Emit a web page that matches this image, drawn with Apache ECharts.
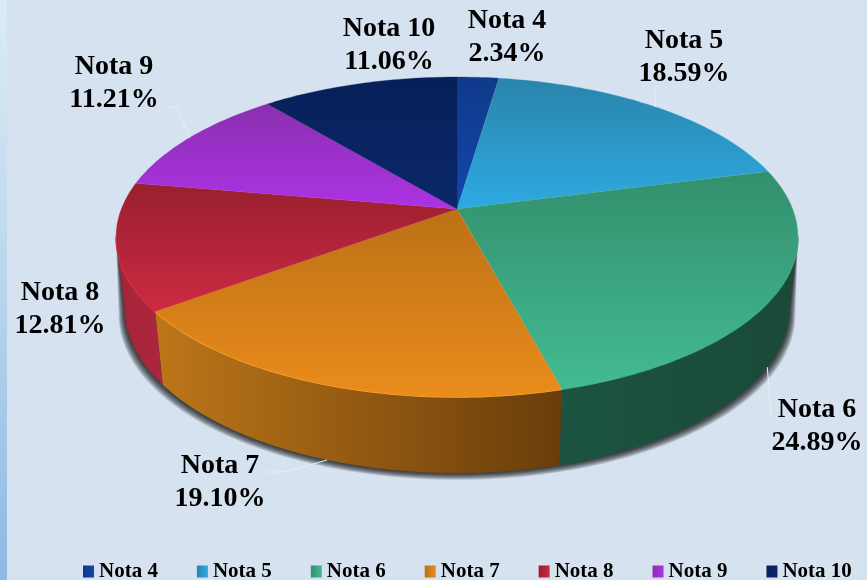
<!DOCTYPE html>
<html>
<head>
<meta charset="utf-8">
<script src="https://cdn.jsdelivr.net/npm/echarts@6/dist/echarts.min.js"></script>
<style>
html, body { margin: 0; padding: 0; background: #d6e2ef; }
#main { width: 867px; height: 580px; }
</style>
</head>
<body>
<div id="main"></div>
<script>
var categories = ['Nota 4', 'Nota 5', 'Nota 6', 'Nota 7', 'Nota 8', 'Nota 9', 'Nota 10'];
var percents = [2.34, 18.59, 24.89, 19.10, 12.81, 11.21, 11.06];

// top face: dark (far) -> bright (near)
var topColors = [
    ['#0f398a', '#1446ab'], ['#2a84aa', '#2eaae2'], ['#338f6d', '#43bb91'], ['#bb7116', '#ea8c1c'],
    ['#98202e', '#cc2a42'], ['#8a2fae', '#ac33e4'], ['#07205a', '#0a2767']
];
// side wall: left -> right
var wallColors = [
    ['#0c2c6b', '#0c2c6b'], ['#1f6d90', '#1f6d90'], ['#1c5441', '#1a4a38'], ['#bd7619', '#693d0b'],
    ['#a62438', '#ac263c'], ['#6d258c', '#6d258c'], ['#061a48', '#061a48']
];
var rimColors = ['#1446ab', '#2eaae2', '#3a9a78', '#ffab2e', '#ea3350', '#ac33e4', '#0a2767'];

// perspective of the disc
var CX = 457, CY = 209, RX = 335.7, RY = 155.1, PERSP = 0.175;
var DEPTH = 70, BOTTOM_SX = 0.975, BOTTOM_SY = 1.032;
// part of the rim that faces the viewer
var WALL_FROM = 100, WALL_TO = 260;

var angles = [0];
percents.forEach(function (p, i) {
    angles.push(angles[i] + p / 100 * 360);
});

function topPoint(deg) {
    var a = deg * Math.PI / 180;
    var u = Math.sin(a), v = -Math.cos(a), w = 1 - PERSP * v;
    return [CX + RX * u / w, CY + RY * v / w];
}
function bottomPoint(deg) {
    var a = deg * Math.PI / 180;
    var u = Math.sin(a), v = -Math.cos(a), w = 1 - PERSP * v;
    return [CX + BOTTOM_SX * RX * u / w, CY + DEPTH + BOTTOM_SY * RY * v / w];
}
function arc(from, to, fn) {
    var pts = [];
    for (var d = from; d < to; d += 1) {
        pts.push(fn(d));
    }
    pts.push(fn(to));
    return pts;
}
function grad(c, horizontal) {
    return {
        type: 'linear', x: 0, y: 0, x2: horizontal ? 1 : 0, y2: horizontal ? 0 : 1,
        colorStops: [{ offset: 0, color: c[0] }, { offset: 1, color: c[1] }]
    };
}

// label centre and leader line of each slice
var labelLayout = [
    { x: 507, y: 37 },
    { x: 684, y: 57, line: [[655, 86]], rim: 'top' },
    { x: 817, y: 426, line: [[771, 416]], rim: 'bottom' },
    { x: 220, y: 482, line: [[285, 472], [265, 472]], rim: 'bottom' },
    { x: 60, y: 309 },
    { x: 114, y: 83, line: [[177, 107], [165, 107]], rim: 'top' },
    { x: 389, y: 45 }
];

function renderTop(params, api) {
    var i = api.value(0);
    var from = angles[i], to = angles[i + 1];
    var pts = [[CX, CY]].concat(arc(from, to, topPoint));
    var children = [{
        type: 'polygon',
        shape: { points: pts },
        style: { fill: grad(topColors[i]), stroke: topColors[i][1], lineWidth: 0.3 }
    }];
    var lay = labelLayout[i];
    if (lay.line) {
        var mid = (from + to) / 2;
        var anchor = lay.rim === 'top' ? topPoint(mid) : bottomPoint(mid);
        children.push({
            type: 'polyline',
            shape: { points: [anchor].concat(lay.line) },
            style: { stroke: '#e8eef5', lineWidth: 1, fill: null }
        });
    }
    children.push({
        type: 'text',
        x: lay.x,
        y: lay.y,
        style: {
            text: categories[i] + '\n' + percents[i].toFixed(2) + '%',
            font: 'bold 28px "Liberation Serif"',
            lineHeight: 33,
            fill: '#000',
            align: 'center',
            verticalAlign: 'middle'
        }
    });
    return { type: 'group', children: children };
}

function renderWall(params, api) {
    var i = api.value(0);
    var from = Math.max(angles[i], WALL_FROM), to = Math.min(angles[i + 1], WALL_TO);
    if (from >= to) {
        return null;
    }
    var rim = arc(from, to, topPoint);
    var low = arc(from, to, bottomPoint).reverse();
    return {
        type: 'group',
        children: [{
            type: 'polygon',
            shape: { points: rim.concat(low) },
            style: { fill: grad(wallColors[i], true) }
        }, {
            type: 'polyline',
            shape: { points: rim },
            style: { stroke: rimColors[i], lineWidth: 1.5, fill: null }
        }]
    };
}

// soft shadow under the disc, stacked translucent outlines
function renderShadow() {
    var rim = arc(WALL_FROM, WALL_TO, topPoint);
    var low = arc(WALL_FROM, WALL_TO, bottomPoint).reverse();
    var children = [];
    for (var k = 8; k >= 1; k--) {
        children.push({
            type: 'polygon',
            shape: {
                points: rim.concat(low.map(function (p) {
                    return [CX + (p[0] - CX) * (1 + k * 0.75 / 335), p[1] + k * 0.85];
                }))
            },
            style: { fill: 'rgba(0,0,0,0.14)' }
        });
    }
    return { type: 'group', children: children };
}

var series = [
    { name: 'shadow', type: 'custom', coordinateSystem: 'none', z: 1, silent: true, renderItem: renderShadow, data: [[0]] },
    {
        name: 'wall', type: 'custom', coordinateSystem: 'none', z: 2, silent: true, renderItem: renderWall,
        data: categories.map(function (c, i) { return [i]; })
    }
];
categories.forEach(function (c, i) {
    series.push({
        name: c,
        type: 'custom',
        coordinateSystem: 'none',
        z: 3,
        silent: true,
        itemStyle: { color: topColors[i][1] },
        renderItem: renderTop,
        data: [[i, percents[i]]]
    });
});

var chart = echarts.init(document.getElementById('main'));
chart.setOption({
    animation: false,
    backgroundColor: '#d6e2ef',
    graphic: [{
        type: 'rect',
        silent: true,
        shape: { x: 0, y: 0, width: 7, height: 580 },
        style: {
            fill: {
                type: 'linear', x: 0, y: 0, x2: 0, y2: 1,
                colorStops: [{ offset: 0, color: '#dcecf5' }, { offset: 0.5, color: '#b8d5ec' }, { offset: 1, color: '#8db9e4' }]
            }
        }
    }],
    legend: {
        left: 83,
        top: 561,
        padding: 0,
        icon: 'rect',
        itemWidth: 11,
        itemHeight: 12,
        itemGap: 39,
        selectedMode: false,
        textStyle: { fontFamily: 'Liberation Serif', fontWeight: 'bold', fontSize: 21, color: '#000' },
        data: categories.map(function (c, i) {
            return { name: c, itemStyle: { color: grad([topColors[i][0], topColors[i][1]], true) } };
        })
    },
    series: series
});
</script>
</body>
</html>
